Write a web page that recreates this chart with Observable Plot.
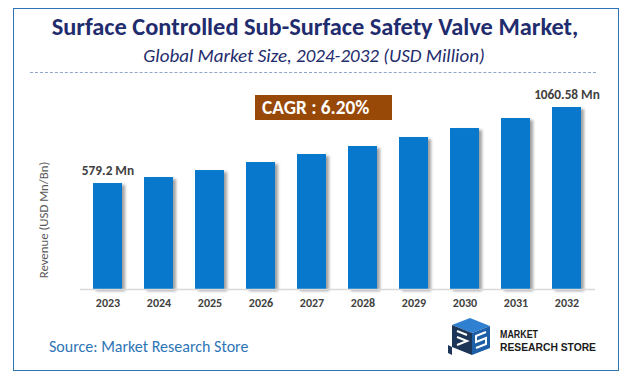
<!DOCTYPE html>
<html>
<head>
<meta charset="utf-8">
<script src="https://cdn.jsdelivr.net/npm/d3@7"></script>
<script src="https://cdn.jsdelivr.net/npm/@observablehq/plot@0.6"></script>
<style>
  html, body { margin: 0; padding: 0; background: #fff; }
  #wrap { position: relative; width: 632px; height: 383px; overflow: hidden; font-family: Carlito, Lato, "Open Sans", sans-serif; background:#fff; }
  #wrap > * { position: absolute; }
  #frame { left: 13px; top: 8px; width: 606px; height: 363px; box-sizing: border-box; border: 1.5px solid #2e75b6; }
  #title { left: 0; width: 630px; top: 12px; line-height: 30px; text-align: center; font-weight: 700; font-size: 24.4px; color: #1f2c6d; white-space: nowrap; }
  #subtitle { left: 0; width: 628px; top: 45px; line-height: 22px; text-align: center; font-style: italic; font-size: 19px; color: #1f2c6d; white-space: nowrap; }
  #dash { left: 30px; top: 72px; width: 566px; height: 0; border-top: 1px dashed #8fa6c6; }
  #cagr { left: 255px; top: 95px; width: 137px; height: 25px; background: #984807; color: #fff; font-weight: 700; font-size: 19.3px; line-height: 25px; box-sizing: border-box; padding-left: 7px; white-space: nowrap; }
  #ylabel { left: 43px; top: 220px; transform: translate(-50%, -50%) rotate(-90deg); font-size: 12.8px; color: #595959; white-space: nowrap; }
  #source { left: 49px; top: 337px; font-size: 16px; line-height: 20px; color: #2e75b6; white-space: nowrap; }
  #logo { left: 440px; top: 312px; }
  #chart { left: 0; top: 0; }
</style>
</head>
<body>
<div id="wrap">
  <div id="chart"></div>
  <div id="frame"></div>
  <div id="title">Surface Controlled Sub-Surface Safety Valve Market,</div>
  <div id="subtitle">Global Market Size, 2024-2032 (USD Million)</div>
  <div id="dash"></div>
  <div id="cagr">CAGR : 6.20%</div>
  <div id="ylabel">Revenue (USD Mn/Bn)</div>
  <div id="source">Source: Market Research Store</div>
  <svg id="logo" width="170" height="60" viewBox="0 0 170 60">
    <polygon points="12,13 30,6 50,14 32,21" fill="#2f80d0"/>
    <polygon points="12,13 32,21 32,43 12,35" fill="#1d3557"/>
    <polygon points="32,21 50,14 50,36 32,43" fill="#1f5fa8"/>
    <path d="M17,19 L27,23 M17,25 L27,29 L17,33" stroke="#fff" stroke-width="2" fill="none"/>
    <path d="M46,20 L36,24 L36,30 L46,26 L46,32 L36,36" stroke="#fff" stroke-width="2" fill="none"/>
    <polygon points="8,33 12,35 12,43 8,41" fill="#1d3557"/>
    <text x="60" y="26" font-family="'Liberation Sans', Roboto, sans-serif" font-weight="700" font-size="11" fill="#1a1a1a" textLength="38" lengthAdjust="spacingAndGlyphs">MARKET</text>
    <text x="60" y="38.5" font-family="'Liberation Sans', Roboto, sans-serif" font-weight="700" font-size="11" fill="#1a1a1a" textLength="96" lengthAdjust="spacingAndGlyphs">RESEARCH STORE</text>
  </svg>
</div>
<script>
const years = ["2023","2024","2025","2026","2027","2028","2029","2030","2031","2032"];
const revenue = [579.2, 617.2, 661.5, 712.2, 762.9, 813.6, 870.6, 927.6, 990.9, 1060.58];
const labelledYears = ["2023", "2032"];
const yMin = -92;
const yMax = 1200;

const data = years.map((year, i) => ({year, value: revenue[i]}));

const chart = Plot.plot({
  width: 632,
  height: 383,
  marginLeft: 80,
  marginRight: 37,
  marginTop: 85,
  marginBottom: 94,
  style: {background: "transparent", fontFamily: "Carlito, Lato, sans-serif"},
  x: {domain: years, paddingInner: 0.43, paddingOuter: 0.215, label: null},
  y: {domain: [yMin, yMax], axis: null},
  marks: [
    Plot.barY(data, {x: "year", y1: yMin, y2: "value", fill: "#8a8a8a", dx: 3, dy: 2, fillOpacity: 0.8}),
    Plot.barY(data, {x: "year", y1: yMin, y2: "value", fill: "#0778cc"}),
    Plot.ruleY([yMin], {stroke: "#d9d9d9", strokeWidth: 1.5}),
    Plot.axisX({tickSize: 0, tickPadding: 9, fontSize: 12, fontWeight: "bold", fill: "#404040", label: null}),
    Plot.text(data.filter(d => labelledYears.includes(d.year)), {
      x: "year", y: "value", text: d => `${d.value} Mn`, dy: -13,
      fontSize: 13.3, fontWeight: "bold", fill: "#404040"
    })
  ]
});

const svg = d3.select(chart);
const defs = svg.insert("defs", ":first-child");
defs.append("filter").attr("id", "barShadow").attr("x", "-50%").attr("y", "-10%").attr("width", "200%").attr("height", "120%")
  .append("feGaussianBlur").attr("stdDeviation", 1.6);
const bars = chart.querySelectorAll('g[aria-label="bar"]');
if (bars.length) bars[0].setAttribute("filter", "url(#barShadow)");

document.getElementById("chart").appendChild(chart);
</script>
</body>
</html>
